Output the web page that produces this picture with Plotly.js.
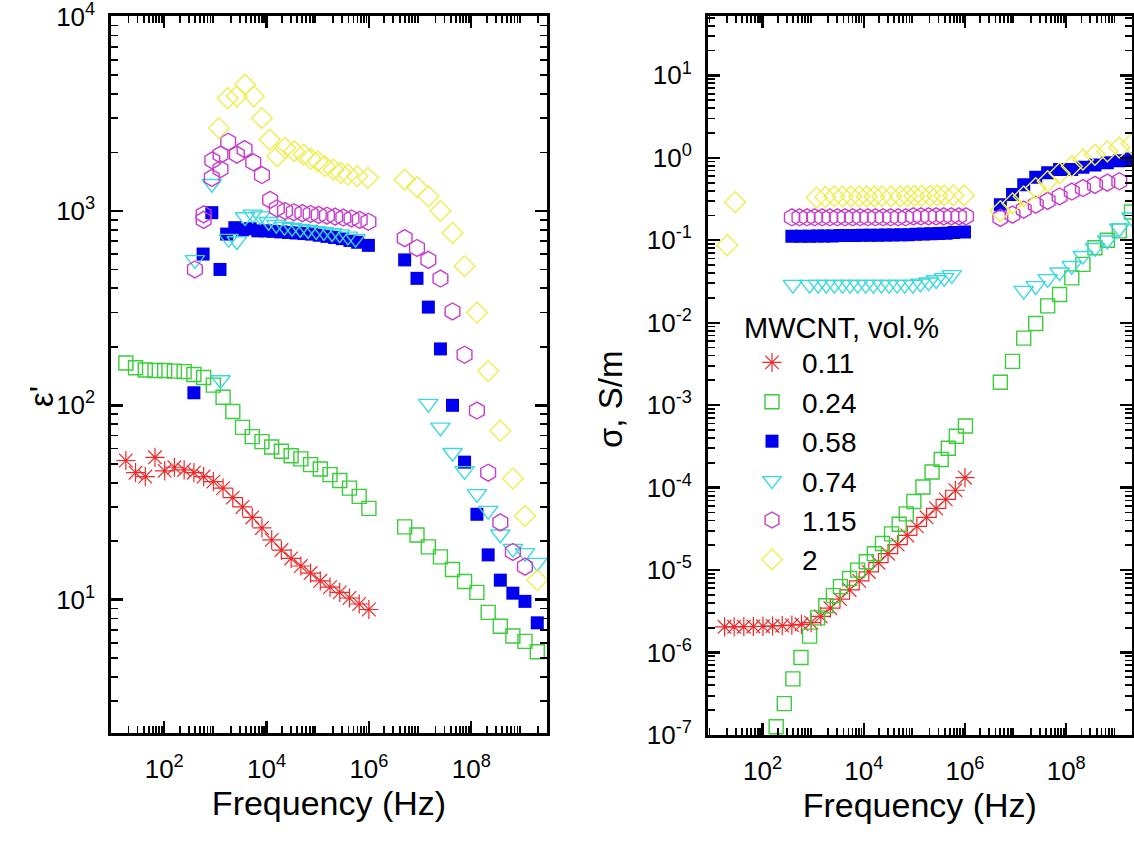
<!DOCTYPE html>
<html><head><meta charset="utf-8">
<script src="https://cdn.plot.ly/plotly-3.0.1.min.js"></script>
<style>html,body{margin:0;padding:0;background:#fff}#chart{width:1134px;height:845px}</style>
</head><body><div id="chart"></div>
<script>
// ---------------- data ----------------
const seriesNames = ['0.11', '0.24', '0.58', '0.74', '1.15', '2'];
const legendTitle = 'MWCNT, vol.%';
const xTitle = 'Frequency (Hz)';
const y1Title = "ε'";
const y2Title = 'σ, S/m';

// low-frequency analyser, 0.11 and 0.24 vol.% (epsilon')
const fLowA = [17.8, 27.5, 42.7, 66, 102, 158, 245, 380, 589, 912, 1413, 2188, 3388, 5248, 8128, 12590, 19500, 30200, 46800, 72400, 112200, 173800, 269200, 416900, 645700, 1000000];
const eps011 = [52, 45, 43, 54, 46, 48, 46.5, 45, 43, 40.5, 37.5, 33.5, 30, 26.5, 23.4, 20.3, 18, 16.3, 14.9, 13.7, 12.5, 11.6, 10.9, 10.2, 9.5, 8.9];
const sig011 = [2.05e-6, 2.05e-6, 2.06e-6, 2.07e-6, 2.08e-6, 2.1e-6, 2.12e-6, 2.15e-6, 2.2e-6, 2.3e-6, 2.75e-6, 3.45e-6, 4.45e-6, 5.75e-6, 7.4e-6, 9.5e-6, 1.23e-5, 1.58e-5, 2.04e-5, 2.63e-5, 3.39e-5, 4.37e-5, 5.6e-5, 7.2e-5, 9.3e-5, 1.32e-4];
const eps024Low = [165, 156, 152, 151, 151, 150, 149, 144, 139, 127, 110, 93, 77, 69, 65, 61, 58, 55, 53, 49.5, 47, 44, 41, 37.5, 34, 29.5];

const fSig024Low = [186, 269, 398, 575, 851, 1230, 1778, 2512, 3467, 5248, 7586, 11220, 16220, 23440, 35480, 50120, 69180, 97720, 147900, 223900, 338800, 467700, 676100, 1023000];
const sig024Low = [1.26e-7, 2.4e-7, 4.8e-7, 8.7e-7, 1.58e-6, 2.63e-6, 3.7e-6, 4.9e-6, 6.3e-6, 7.9e-6, 1.0e-5, 1.26e-5, 1.58e-5, 2.1e-5, 2.75e-5, 3.6e-5, 4.8e-5, 6.8e-5, 1.02e-4, 1.55e-4, 2.19e-4, 3.0e-4, 4.2e-4, 5.6e-4];

// high-frequency analyser
const fHigh = [5.0e6, 8.7e6, 1.45e7, 2.5e7, 4.3e7, 7.4e7, 1.29e8, 2.14e8, 3.7e8, 6.5e8, 1.12e9, 1.95e9];
const eps024High = [23.7, 21.5, 18.7, 16.6, 14.3, 12.4, 10.9, 8.6, 7.3, 6.5, 6.1, 5.4];
const sig024High = [0.0019, 0.0034, 0.0065, 0.0098, 0.016, 0.022, 0.035, 0.051, 0.081, 0.10, 0.13, 0.22];

// 0.58 vol.%
const f058Low = [380, 575, 851, 1230, 1660, 2399, 3388, 4786, 6761, 9550, 13490, 19050, 26920, 38020, 53700, 75860, 107200, 151400, 213800, 302000, 426600, 602600, 977200];
const eps058Low = [116, 600, 980, 500, 760, 820, 800, 810, 790, 790, 785, 780, 775, 770, 765, 760, 750, 740, 730, 720, 705, 690, 665];
const sig058Low = [0.112, 0.112, 0.112, 0.113, 0.113, 0.113, 0.114, 0.114, 0.114, 0.115, 0.115, 0.115, 0.116, 0.116, 0.117, 0.117, 0.118, 0.119, 0.12, 0.121, 0.122, 0.124, 0.126];
const eps058High = [560, 450, 320, 195, 100, 51, 27.5, 17, 12.6, 10.8, 9.8, 7.6];
const sig058High = [0.27, 0.36, 0.47, 0.58, 0.66, 0.72, 0.72, 0.77, 0.82, 0.87, 0.92, 0.97];

// 0.74 vol.%
const f074Low = [398, 851, 1259, 1820, 2630, 3802, 5370, 7586, 10960, 15490, 22390, 31620, 45710, 64570, 93330, 131800, 190500, 269200, 389000, 549500];
const eps074Low = [560, 1380, 135, 720, 700, 930, 960, 940, 880, 850, 830, 820, 810, 800, 790, 780, 770, 760, 740, 720];
const sig074Low = [0.029, 0.029, 0.029, 0.029, 0.029, 0.029, 0.029, 0.029, 0.029, 0.029, 0.029, 0.029, 0.029, 0.029, 0.029, 0.030, 0.031, 0.033, 0.035, 0.038];
const f074High = [1.45e7, 2.5e7, 4.3e7, 7.4e7, 1.29e8, 2.14e8, 3.7e8, 6.5e8, 1.12e9, 1.95e9];
const eps074High = [102, 77, 57, 46, 35, 28.7, 21.7, 18.3, 17.4, 15.5];
const sig074High = [0.0245, 0.028, 0.034, 0.041, 0.049, 0.065, 0.081, 0.10, 0.14, 0.19];

// 1.15 vol.%
const f115EpsLow = [398, 589, 589, 851, 871, 1259, 1259, 1778, 2630, 3715, 5495, 8128, 11750, 15850, 22910, 33880, 50120, 72440, 104700, 151400, 218800, 316200, 457100, 660700, 977200];
const eps115Low = [500, 900, 960, 1480, 1820, 1640, 1950, 2270, 1950, 2080, 1780, 1530, 1140, 1030, 1000, 985, 975, 965, 955, 945, 935, 925, 915, 900, 880];
const f115SigLow = [380, 537, 759, 1072, 1514, 2138, 3020, 4266, 6026, 8511, 12020, 16980, 23990, 33880, 47860, 67610, 95500, 134900, 190500, 269200, 380200, 537000, 758600, 1047000];
const sig115Low = [0.19, 0.19, 0.19, 0.19, 0.19, 0.19, 0.19, 0.19, 0.19, 0.19, 0.19, 0.19, 0.19, 0.19, 0.19, 0.19, 0.195, 0.195, 0.195, 0.195, 0.195, 0.195, 0.195, 0.195];
const f115High = [5.0e6, 8.7e6, 1.45e7, 2.5e7, 4.3e7, 7.4e7, 1.29e8, 2.14e8, 3.7e8, 6.5e8, 1.12e9];
const eps115High = [725, 645, 560, 449, 304, 182, 94, 45, 25, 17.6, 14.8];
const sig115High = [0.187, 0.205, 0.235, 0.27, 0.30, 0.34, 0.39, 0.43, 0.47, 0.50, 0.52];

// 2 vol.%
const f2Low = [1175, 1738, 2630, 3802, 5623, 8128, 11480, 16220, 22910, 34670, 52480, 72440, 100000, 138000, 204200, 281800, 389000, 588800, 955000];
const eps2Low = [2670, 3800, 3890, 4470, 3890, 3000, 2330, 1910, 2110, 2030, 1950, 1860, 1800, 1700, 1630, 1570, 1540, 1510, 1480];
const f2SigVeryLow = [20, 28.8];
const sig2VeryLow = [0.087, 0.29];
const sig2Low = [0.33, 0.335, 0.34, 0.34, 0.34, 0.34, 0.34, 0.34, 0.34, 0.34, 0.34, 0.345, 0.345, 0.345, 0.345, 0.35, 0.35, 0.35, 0.35];
const eps2High = [1450, 1330, 1190, 1000, 770, 520, 300, 150, 74, 42, 27, 12.6];
const sig2High = [0.226, 0.28, 0.34, 0.43, 0.52, 0.65, 0.79, 0.95, 1.09, 1.2, 1.33, 1.48];

// axis ticks and tick labels
const xLabelVals = [1e2, 1e4, 1e6, 1e8];
const xLabelText = ['10<sup>2</sup>', '10<sup>4</sup>', '10<sup>6</sup>', '10<sup>8</sup>'];
const xOddDecades = [1e1, 1e3, 1e5, 1e7, 1e9];
const y1TickVals = [1e1, 1e2, 1e3, 1e4];
const y1TickText = ['10<sup>1</sup>', '10<sup>2</sup>', '10<sup>3</sup>', '10<sup>4</sup>'];
const y2TickVals = [1e-7, 1e-6, 1e-5, 1e-4, 1e-3, 1e-2, 1e-1, 1e0, 1e1];
const y2TickText = ['10<sup>-7</sup>', '10<sup>-6</sup>', '10<sup>-5</sup>', '10<sup>-4</sup>', '10<sup>-3</sup>', '10<sup>-2</sup>', '10<sup>-1</sup>', '10<sup>0</sup>', '10<sup>1</sup>'];

// ---------------- styling ----------------
const FONT = 'Liberation Sans, Arial, sans-serif';
const styles = [
  {symbol: 'asterisk-open', color: '#f02828', size: 16, lw: 1.2},
  {symbol: 'square-open', color: '#3ccc3c', size: 14, lw: 1.4},
  {symbol: 'square', color: '#0000ee', size: 13, lw: 0},
  {symbol: 'triangle-down-open', color: '#3ad8e0', size: 17, lw: 1.4},
  {symbol: 'hexagon-open', color: '#c83ccc', size: 17, lw: 1.4},
  {symbol: 'diamond-open', color: '#eeee50', size: 16, lw: 1.4}
];

const epsX = [fLowA, fLowA.concat(fHigh), f058Low.concat(fHigh), f074Low.concat(f074High), f115EpsLow.concat(f115High), f2Low.concat(fHigh)];
const epsY = [eps011, eps024Low.concat(eps024High), eps058Low.concat(eps058High), eps074Low.concat(eps074High), eps115Low.concat(eps115High), eps2Low.concat(eps2High)];
const sigX = [fLowA, fSig024Low.concat(fHigh), f058Low.concat(fHigh), f074Low.concat(f074High), f115SigLow.concat(f115High), f2SigVeryLow.concat(f2Low, fHigh)];
const sigY = [sig011, sig024Low.concat(sig024High), sig058Low.concat(sig058High), sig074Low.concat(sig074High), sig115Low.concat(sig115High), sig2VeryLow.concat(sig2Low, sig2High)];

function markerOf(s) {
  return {symbol: s.symbol, size: s.size, color: s.color, line: {color: s.color, width: s.lw}};
}
const traces = [];
seriesNames.forEach((nm, i) => {
  traces.push({type: 'scatter', mode: 'markers', name: nm, x: epsX[i], y: epsY[i],
    xaxis: 'x', yaxis: 'y', showlegend: false, marker: markerOf(styles[i])});
});
seriesNames.forEach((nm, i) => {
  traces.push({type: 'scatter', mode: 'markers', name: nm, x: sigX[i], y: sigY[i],
    xaxis: 'x2', yaxis: 'y2', showlegend: true, marker: markerOf(styles[i])});
});

const minorVals = [];
for (let d = -8; d <= 10; d++) for (let k = 2; k <= 9; k++) minorVals.push(k * Math.pow(10, d));

const TICKLEN = 12, TICKW = 2.4;
function axis(extra) {
  return Object.assign({
    type: 'log', showline: true, linecolor: '#000', linewidth: 2.6, mirror: 'allticks',
    ticks: 'inside', ticklen: TICKLEN, tickwidth: TICKW, tickcolor: '#000',
    showgrid: false, zeroline: false, tickmode: 'array', ticklabeloverflow: 'allow',
    tickfont: {family: FONT, size: 26, color: '#000'},
    minor: {tickmode: 'array', tickvals: minorVals, ticks: 'inside', ticklen: 7, tickwidth: 1.8, tickcolor: '#000', showgrid: false}
  }, extra);
}
// extra axis carrying the un-labelled decade ticks
function decadeAxis(extra) {
  return Object.assign({
    type: 'log', showline: false, mirror: 'allticks', ticks: 'inside', ticklen: TICKLEN, tickwidth: TICKW,
    tickcolor: '#000', showgrid: false, zeroline: false, showticklabels: false,
    tickmode: 'array', tickvals: xOddDecades
  }, extra);
}

const W = 1134, H = 845;
const layout = {
  width: W, height: H, margin: {l: 0, r: 0, t: 0, b: 0},
  paper_bgcolor: '#fff', plot_bgcolor: '#fff',
  font: {family: FONT, color: '#000'},
  xaxis: axis({domain: [111 / W, 547 / W], range: [0.96, 9.48], anchor: 'y',
    tickvals: xLabelVals, ticktext: xLabelText, ticklabelstandoff: 11,
    title: {text: xTitle, font: {family: FONT, size: 34}, standoff: 6}}),
  yaxis: axis({domain: [1 - 733 / H, 1 - 16 / H], range: [0.314, 4.003], anchor: 'x',
    tickvals: y1TickVals, ticktext: y1TickText, ticklabelstandoff: 8}),
  xaxis2: axis({domain: [707.6 / W, 1132 / W], range: [0.915, 9.3], anchor: 'y2',
    tickvals: xLabelVals, ticktext: xLabelText, ticklabelstandoff: 11,
    title: {text: xTitle, font: {family: FONT, size: 34}, standoff: 6}}),
  yaxis2: axis({domain: [1 - 735 / H, 1 - 16 / H], range: [-7, 1.72], anchor: 'x2',
    tickvals: y2TickVals, ticktext: y2TickText, ticklabelstandoff: 8}),
  xaxis3: decadeAxis({overlaying: 'x', anchor: 'y', range: [0.96, 9.48]}),
  xaxis4: decadeAxis({overlaying: 'x2', anchor: 'y2', range: [0.915, 9.3]}),
  annotations: [
    {text: y1Title, xref: 'paper', yref: 'paper', x: 41 / W, y: 1 - 397 / H, xanchor: 'center', yanchor: 'middle',
      textangle: -90, showarrow: false, font: {family: FONT, size: 33, color: '#000'}},
    {text: y2Title, xref: 'paper', yref: 'paper', x: 610 / W, y: 1 - 400 / H, xanchor: 'center', yanchor: 'middle',
      textangle: -90, showarrow: false, font: {family: FONT, size: 33, color: '#000'}}
  ],
  legend: {x: 742 / W, y: 1 - 300 / H, xanchor: 'left', yanchor: 'top',
    bgcolor: 'rgba(0,0,0,0)', borderwidth: 0,
    font: {family: FONT, size: 28, color: '#000'},
    title: {text: legendTitle, font: {family: FONT, size: 29, color: '#000'}},
    itemwidth: 50, tracegroupgap: 0}
};

Plotly.newPlot('chart', traces, layout, {staticPlot: true, displayModeBar: false});
</script></body></html>
